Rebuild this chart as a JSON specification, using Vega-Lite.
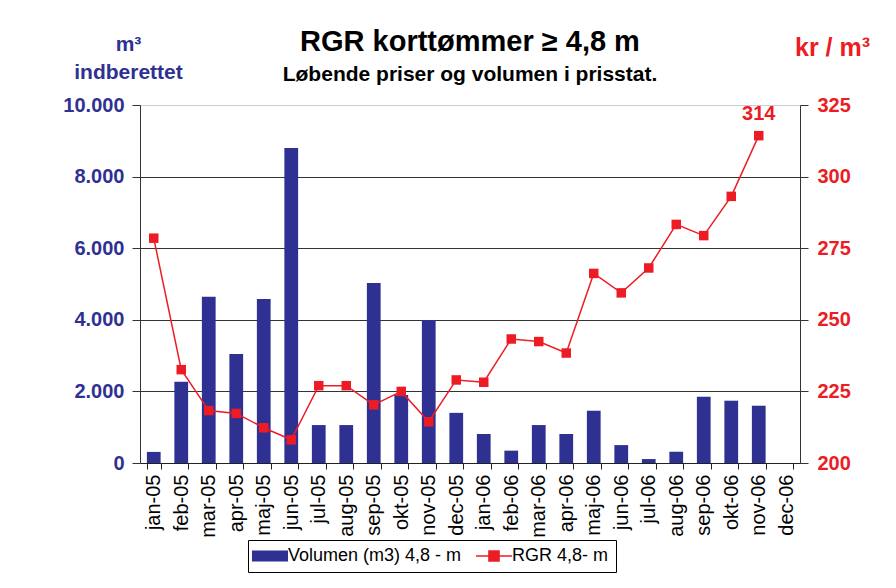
{
  "$schema": "https://vega.github.io/schema/vega-lite/v6.json",
  "width": 660,
  "height": 358,
  "autosize": {"type": "none"},
  "padding": {"left": 140, "top": 105, "right": 96, "bottom": 125},
  "background": "white",
  "config": {
    "font": "Liberation Sans",
    "view": {"stroke": null}
  },
  "title": {
    "text": "RGR korttømmer ≥ 4,8 m",
    "subtitle": "Løbende priser og volumen i prisstat.",
    "anchor": "middle",
    "frame": "group",
    "font": "Liberation Sans",
    "fontSize": 29,
    "fontWeight": "bold",
    "color": "#000000",
    "subtitleFont": "Liberation Sans",
    "subtitleFontSize": 21,
    "subtitleFontWeight": "bold",
    "subtitleColor": "#000000",
    "subtitlePadding": 7,
    "offset": -52
  },
  "data": {
    "values": [
      {"month": "jan-05", "volumen": 310, "pris": 278.5},
      {"month": "feb-05", "volumen": 2270, "pris": 232.6},
      {"month": "mar-05", "volumen": 4645, "pris": 218.3},
      {"month": "apr-05", "volumen": 3045, "pris": 217.3},
      {"month": "maj-05", "volumen": 4580, "pris": 212.3},
      {"month": "jun-05", "volumen": 8800, "pris": 208.1},
      {"month": "jul-05", "volumen": 1060, "pris": 227.0},
      {"month": "aug-05", "volumen": 1060, "pris": 227.0},
      {"month": "sep-05", "volumen": 5030, "pris": 220.3},
      {"month": "okt-05", "volumen": 1900, "pris": 225.0},
      {"month": "nov-05", "volumen": 3995, "pris": 214.4},
      {"month": "dec-05", "volumen": 1400, "pris": 229.0},
      {"month": "jan-06", "volumen": 810, "pris": 228.2},
      {"month": "feb-06", "volumen": 345, "pris": 243.3},
      {"month": "mar-06", "volumen": 1060, "pris": 242.4},
      {"month": "apr-06", "volumen": 810, "pris": 238.4},
      {"month": "maj-06", "volumen": 1460, "pris": 266.2},
      {"month": "jun-06", "volumen": 500, "pris": 259.4},
      {"month": "jul-06", "volumen": 110, "pris": 268.1},
      {"month": "aug-06", "volumen": 315, "pris": 283.3},
      {"month": "sep-06", "volumen": 1850, "pris": 279.4},
      {"month": "okt-06", "volumen": 1740, "pris": 293.1},
      {"month": "nov-06", "volumen": 1600, "pris": 314.3},
      {"month": "dec-06", "volumen": null, "pris": null}
    ]
  },
  "encoding": {
    "x": {
      "field": "month",
      "type": "nominal",
      "sort": null,
      "scale": {"paddingInner": 0.5, "paddingOuter": 0.25},
      "axis": {
        "title": null,
        "labelAngle": -90,
        "labelAlign": "right",
        "labelBaseline": "middle",
        "labelFontSize": 20,
        "labelColor": "#000000",
        "labelPadding": 5,
        "domainColor": "#222222",
        "tickColor": "#222222",
        "tickSize": 6,
        "tickBand": "extent",
        "grid": false
      }
    }
  },
  "layer": [
    {
      "mark": {"type": "bar", "color": "#2e3192"},
      "encoding": {
        "y": {
          "field": "volumen",
          "type": "quantitative",
          "scale": {"domain": [0, 10000], "nice": false},
          "axis": {
            "values": [0, 2000, 4000, 6000, 8000, 10000],
            "labelExpr": "replace(format(datum.value, ',d'), ',', '.')",
            "labelFontSize": 20,
            "labelFontWeight": "bold",
            "labelColor": "#2e3192",
            "labelPadding": 8,
            "tickSize": 8,
            "tickColor": "#333333",
            "domainColor": "#333333",
            "grid": true,
            "gridColor": {"condition": {"test": "datum.value === 10000", "value": "#cccccc"}, "value": "#333333"},
            "gridWidth": 1,
            "title": ["m³", "indberettet"],
            "titleAngle": 0,
            "titleAlign": "center",
            "titleBaseline": "alphabetic",
            "titleX": -12,
            "titleY": -55,
            "titleFontSize": 21,
            "titleFontWeight": "bold",
            "titleColor": "#2e3192",
            "titleLineHeight": 28
          }
        },
        "color": {
          "datum": "Volumen (m3) 4,8 - m",
          "type": "nominal",
          "scale": {"domain": ["Volumen (m3) 4,8 - m", "RGR 4,8- m"], "range": ["#2e3192", "#ed1c24"]},
          "legend": {
            "title": null,
            "orient": "none",
            "direction": "horizontal",
            "legendX": 108,
            "legendY": 435,
            "strokeColor": "#000000",
            "fillColor": "white",
            "padding": 7,
            "labelFontSize": 18,
            "labelFont": "Liberation Sans",
            "labelColor": "#000000",
            "labelLimit": 400,
            "labelOffset": 9,
            "symbolOffset": 6,
            "columnPadding": 10,
            "symbolSize": 1300,
            "encode": {
              "symbols": {
                "update": {
                  "shape": {"signal": "datum.value === 'RGR 4,8- m' ? 'M-1,0H1M-0.28,-0.28H0.28V0.28H-0.28Z' : 'M-1,-0.3H1V0.3H-1Z'"},
                  "fill": {"signal": "datum.value === 'RGR 4,8- m' ? '#ed1c24' : '#2e3192'"},
                  "stroke": {"signal": "datum.value === 'RGR 4,8- m' ? '#ed1c24' : '#2e3192'"},
                  "strokeWidth": {"signal": "datum.value === 'RGR 4,8- m' ? 1.5 : 0"},
                  "opacity": {"value": 1}
                }
              }
            }
          }
        }
      }
    },
    {
      "layer": [
        {
          "mark": {"type": "line", "color": "#ed1c24", "strokeWidth": 1.5, "point": {"shape": "square", "size": 90, "filled": true, "color": "#ed1c24"}},
          "encoding": {
            "y": {
              "field": "pris",
              "type": "quantitative",
              "scale": {"domain": [200, 325], "nice": false, "zero": false},
              "axis": {
                "orient": "right",
                "values": [200, 225, 250, 275, 300, 325],
                "labelFontSize": 20,
                "labelFontWeight": "bold",
                "labelColor": "#ed1c24",
                "labelPadding": 9,
                "tickSize": 8,
                "tickColor": "#333333",
                "domainColor": "#333333",
                "grid": false,
                "title": "kr / m³",
                "titleAngle": 0,
                "titleAlign": "center",
                "titleBaseline": "alphabetic",
                "titleX": 32,
                "titleY": -50,
                "titleFontSize": 25,
                "titleFontWeight": "bold",
                "titleColor": "#ed1c24"
              }
            },
            "color": {"datum": "RGR 4,8- m", "type": "nominal"}
          }
        },
        {
          "transform": [{"filter": "datum.month === 'nov-06'"}],
          "mark": {"type": "text", "color": "#ed1c24", "fontSize": 20, "fontWeight": "bold", "baseline": "bottom", "dy": -12, "font": "Liberation Sans"},
          "encoding": {
            "y": {"field": "pris", "type": "quantitative"},
            "text": {"field": "pris", "type": "quantitative", "format": ".0f"}
          }
        }
      ]
    }
  ],
  "resolve": {"scale": {"y": "independent"}}
}
